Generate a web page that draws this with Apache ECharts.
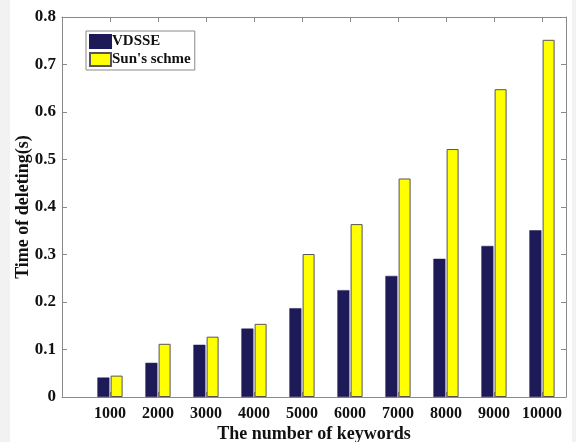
<!DOCTYPE html>
<html>
<head>
<meta charset="utf-8">
<script src="https://cdn.jsdelivr.net/npm/echarts@6/dist/echarts.min.js"></script>
<style>
  html, body { margin: 0; padding: 0; background: #fff; }
  #chart { width: 576px; height: 442px; }
</style>
</head>
<body>
<div id="chart"></div>
<script>
// keyword counts and deleting times
let keywords = [1000, 2000, 3000, 4000, 5000, 6000, 7000, 8000, 9000, 10000];
let vdsse = [0.041, 0.072, 0.110, 0.144, 0.187, 0.225, 0.255, 0.291, 0.318, 0.351];
let sunScheme = [0.045, 0.112, 0.127, 0.154, 0.301, 0.364, 0.460, 0.522, 0.648, 0.752];
let yTicks = [0, 0.1, 0.2, 0.3, 0.4, 0.5, 0.6, 0.7, 0.8];

let axisGray = '#8a8a8a';
let font = 'Liberation Serif';

function pairs(values) {
    return keywords.map(function (k, i) {
        return [k, values[i]];
    });
}

let chart = echarts.init(document.getElementById('chart'));
let option = {
    backgroundColor: '#fff',
    animation: false,
    textStyle: { fontFamily: font },
    grid: { left: 62, right: 10, top: 17, bottom: 45, outerBoundsMode: 'none' },
    // light screenshot margins at the page edges
    graphic: [
        { type: 'rect', left: 0, top: 0, shape: { width: 10, height: 442 }, style: { fill: '#f2f2f2' }, silent: true },
        { type: 'rect', right: 0, top: 0, shape: { width: 4, height: 442 }, style: { fill: '#f2f2f2' }, silent: true }
    ],
    legend: {
        orient: 'vertical',
        left: 86,
        top: 31,
        icon: 'rect',
        itemWidth: 21,
        itemHeight: 13,
        itemGap: 3,
        padding: [3, 4, 3, 3],
        borderColor: '#8a8a8a',
        borderWidth: 1,
        textStyle: { fontFamily: font, fontWeight: 'bold', fontSize: 15, color: '#111', padding: [0, 0, 0, -4] },
        data: ['VDSSE', "Sun's schme"]
    },
    xAxis: [{
        type: 'value',
        min: 0,
        max: 10500,
        interval: 1000,
        name: 'The number of keywords',
        nameLocation: 'middle',
        nameGap: 28,
        nameMoveOverlap: false,
        nameTextStyle: { fontFamily: font, fontWeight: 'bold', fontSize: 18, color: '#111' },
        axisLine: { onZero: false, lineStyle: { color: axisGray } },
        axisTick: { inside: true, length: 5, lineStyle: { color: axisGray } },
        splitLine: { show: false },
        axisLabel: {
            fontFamily: font, fontWeight: 'bold', fontSize: 16, color: '#111', margin: 9,
            showMaxLabel: false,
            formatter: function (v) { return (v === 0 || v > 10000) ? '' : String(v); }
        }
    }, {
        type: 'value',
        position: 'top',
        min: 0,
        max: 10500,
        interval: 1000,
        axisLine: { show: true, onZero: false, lineStyle: { color: axisGray } },
        axisTick: { inside: true, length: 5, lineStyle: { color: axisGray } },
        axisLabel: { show: false },
        splitLine: { show: false }
    }],
    yAxis: [{
        type: 'value',
        min: yTicks[0],
        max: yTicks[yTicks.length - 1],
        interval: 0.1,
        name: 'Time of deleting(s)',
        nameLocation: 'middle',
        nameGap: 30,
        nameMoveOverlap: false,
        nameTextStyle: { fontFamily: font, fontWeight: 'bold', fontSize: 18, color: '#111' },
        axisLine: { show: true, onZero: false, lineStyle: { color: axisGray } },
        axisTick: { show: true, inside: true, length: 5, lineStyle: { color: axisGray } },
        splitLine: { show: false },
        axisLabel: {
            fontFamily: font, fontWeight: 'bold', fontSize: 17, color: '#111', margin: 6,
            formatter: function (v) { return v === 0 ? '0' : v.toFixed(1); }
        }
    }, {
        type: 'value',
        position: 'right',
        min: yTicks[0],
        max: yTicks[yTicks.length - 1],
        interval: 0.1,
        axisLine: { show: true, onZero: false, lineStyle: { color: axisGray } },
        axisTick: { show: true, inside: true, length: 5, lineStyle: { color: axisGray } },
        axisLabel: { show: false },
        splitLine: { show: false }
    }],
    series: [{
        name: 'VDSSE',
        type: 'bar',
        barWidth: 12,
        barGap: '10%',
        data: pairs(vdsse),
        itemStyle: { color: '#1e1a58', borderColor: '#1e1a58', borderWidth: 0.5 }
    }, {
        name: "Sun's schme",
        type: 'bar',
        barWidth: 12,
        barGap: '10%',
        data: pairs(sunScheme),
        itemStyle: { color: '#ffff00', borderColor: '#555', borderWidth: 1 }
    }]
};
chart.setOption(option);
</script>
</body>
</html>
